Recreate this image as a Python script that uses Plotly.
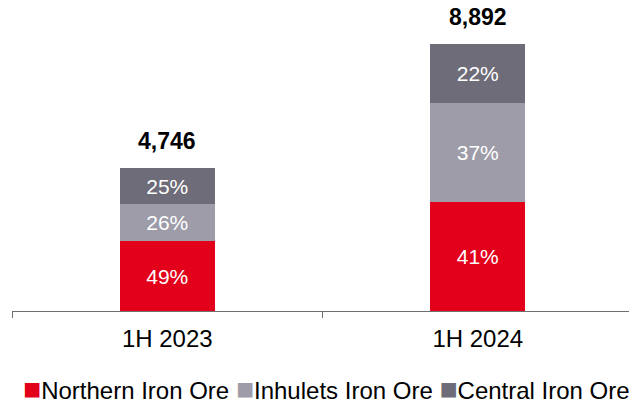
import plotly.graph_objects as go

#%% Data

periods = ['1H 2023', '1H 2024']
series_names = ['Northern Iron Ore', 'Inhulets Iron Ore', 'Central Iron Ore']
northern = [2326, 3646]
inhulets = [1234, 3290]
central = [1186, 1956]
colors = ['#E2001A', '#9D9CA8', '#6D6C78']

series = [northern, inhulets, central]
totals = [sum(v) for v in zip(*series)]

font_family = 'Liberation Sans, Arial, sans-serif'

#%% Plot

fig = go.Figure()

for name, vals, col in zip(series_names, series, colors):
    pct = [f'{round(v / t * 100)}%' for v, t in zip(vals, totals)]
    fig.add_trace(go.Bar(
        x=periods,
        y=vals,
        name=name,
        marker=dict(color=col, line=dict(width=0)),
        width=0.306,
        text=pct,
        textposition='inside',
        insidetextanchor='middle',
        constraintext='none',
        textfont=dict(color='white', size=21, family=font_family),
        hoverinfo='skip',
        showlegend=False,
    ))

# totals above the bars
for p, t in zip(periods, totals):
    fig.add_annotation(x=p, y=t, text=f'<b>{t:,}</b>', showarrow=False,
                       yanchor='middle', yshift=27,
                       font=dict(size=23, color='black', family=font_family))

# legend as a line of text with coloured squares
legend_text = ' '.join(f"<span style='color:{c};font-size:30px'>■</span>{n}"
                       for n, c in zip(series_names, colors))
fig.add_annotation(xref='paper', yref='paper', x=0, y=0, text=legend_text,
                   showarrow=False, xanchor='left', yanchor='middle',
                   xshift=9, yshift=-77,
                   font=dict(size=24, color='black', family=font_family))

fig.update_layout(
    barmode='stack',
    width=629, height=402,
    margin=dict(l=12, r=0, t=0, b=91),
    plot_bgcolor='white', paper_bgcolor='white',
    font=dict(family=font_family, color='black'),
)
fig.update_xaxes(type='category', range=[-0.5, 1.487],
                 showline=True, linecolor='#6F6F6F', linewidth=1,
                 ticks='outside', tickson='boundaries', ticklen=6,
                 tickcolor='#6F6F6F', ticklabelstandoff=6,
                 tickfont=dict(size=24, color='black', family=font_family))
fig.update_yaxes(range=[0, 10357], visible=False, showgrid=False)

# drop the default page margin so the figure sits at the window corner
fig.write_html('out.html', config={'displayModeBar': False},
               post_script="document.body.style.margin='0';")
